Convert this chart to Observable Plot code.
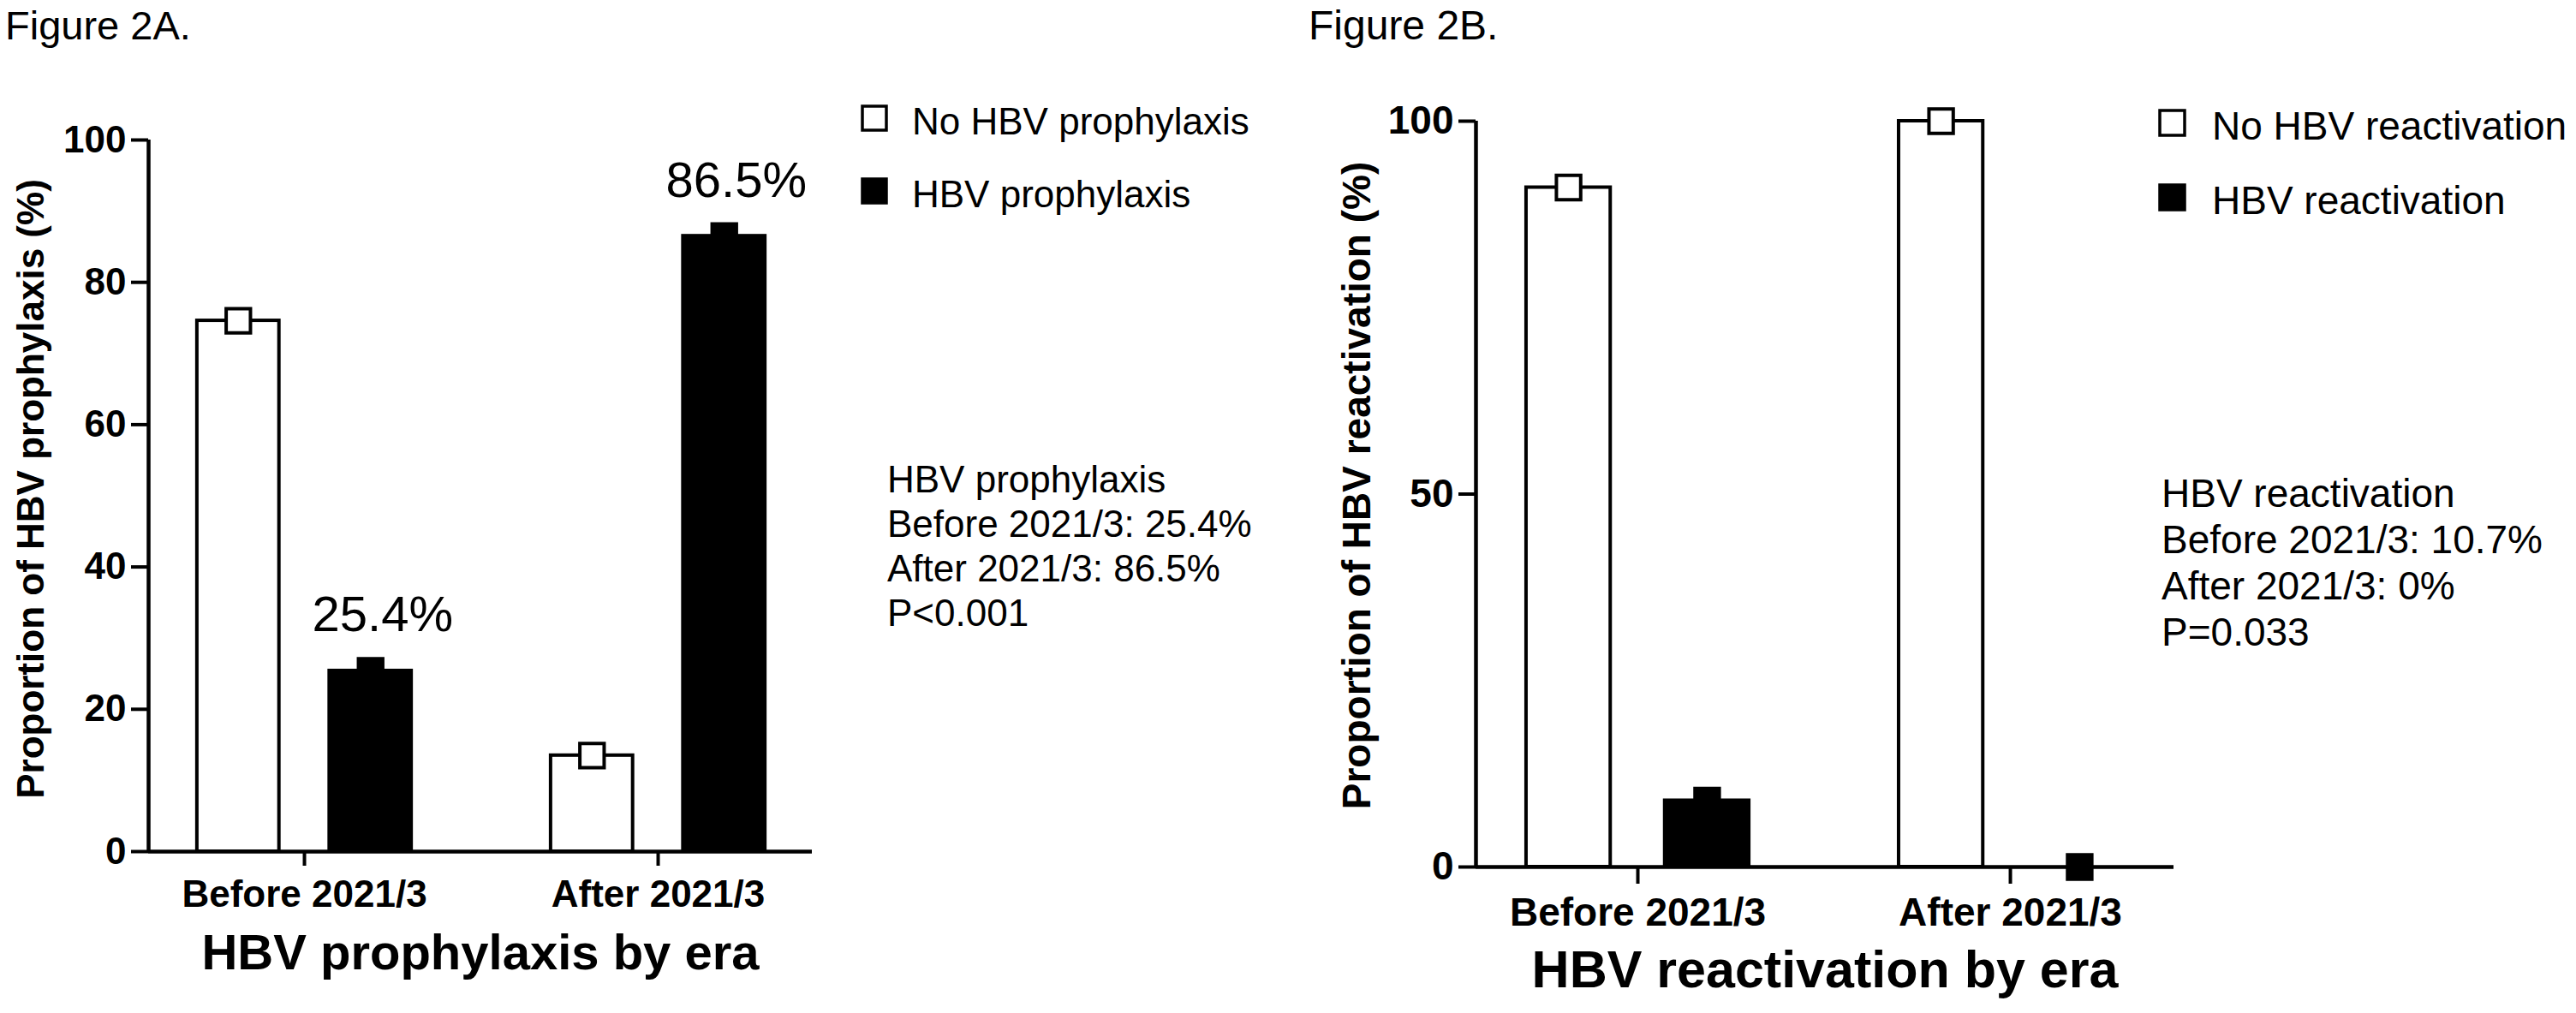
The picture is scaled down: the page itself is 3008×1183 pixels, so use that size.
<!DOCTYPE html>
<html>
<head>
<meta charset="utf-8">
<script src="https://cdn.jsdelivr.net/npm/d3@7"></script>
<script src="https://cdn.jsdelivr.net/npm/@observablehq/plot@0.6"></script>
<style>
  html, body { margin: 0; padding: 0; background: #fff; }
  #wrap { position: relative; width: 3008px; height: 1183px; overflow: hidden; background: #fff; }
  .panel { position: absolute; top: 0; }
  .panel svg { max-width: none !important; }
  #overlay { position: absolute; left: 0; top: 0; pointer-events: none; }
</style>
</head>
<body>
<div id="wrap">
  <div class="panel" id="panelA" style="left:0px;width:1500px;"></div>
  <div class="panel" id="panelB" style="left:1500px;width:1508px;"></div>
</div>
<script>
// ---------------- data ----------------
const eras = ["Before 2021/3", "After 2021/3"];

// Figure 2A
const seriesA = ["No HBV prophylaxis", "HBV prophylaxis"];
const noProphylaxis = [74.6, 13.5];
const prophylaxis = [25.4, 86.5];
const prophylaxisLabels = ["25.4%", "86.5%"];
const ticksA = [0, 20, 40, 60, 80, 100];
const annotationA = ["HBV prophylaxis", "Before 2021/3: 25.4%", "After 2021/3: 86.5%", "P<0.001"];

// Figure 2B
const seriesB = ["No HBV reactivation", "HBV reactivation"];
const noReactivation = [91.1, 100];
const reactivation = [8.9, 0];
const ticksB = [0, 50, 100];
const annotationB = ["HBV reactivation", "Before 2021/3: 10.7%", "After 2021/3: 0%", "P=0.033"];

const FONT = "'Liberation Sans', Arial, Helvetica, sans-serif";

function rows(a, b) {
  return eras.flatMap((era, i) => [
    {i, k: 0, era, value: a[i]},
    {i, k: 1, era, value: b[i]}
  ]);
}

function panel(opts) {
  const {data, width, height, mL, mR, mT, mB, xDomain, off, half, ticks,
         fs, titleFs, yLabel, xTitle, yLabelDx, yLabelDy, xTitleDy, tickPadX,
         tickSizeX, valueLabels} = opts;
  const cx = d => d.i + (d.k === 0 ? -off : off);
  const marks = [
    Plot.rect(data, {
      x1: d => cx(d) - half, x2: d => cx(d) + half,
      y1: () => 0, y2: d => d.value,
      fill: d => d.k === 0 ? "white" : "black",
      stroke: "black", strokeWidth: 4
    }),
    Plot.ruleY([0], {stroke: "black", strokeWidth: 4.5}),
    Plot.ruleX([xDomain[0]], {y1: () => 0, y2: () => 100, stroke: "black", strokeWidth: 4.5}),
    Plot.dot(data, {
      x: cx, y: "value", symbol: "square", r: 16,
      fill: d => d.k === 0 ? "white" : "black",
      stroke: "black", strokeWidth: 4
    }),
    Plot.axisX({ticks: [0, 1], tickFormat: i => eras[i], tickSize: tickSizeX, tickPadding: tickPadX,
      strokeWidth: 4, fontSize: fs, fontWeight: "bold", label: null}),
    Plot.axisY({ticks, tickSize: 20, tickPadding: 6, strokeWidth: 4,
      fontSize: fs, fontWeight: "bold", label: null}),
    Plot.text([yLabel], {text: d => d, frameAnchor: "left", rotate: -90, dx: yLabelDx, dy: yLabelDy,
      lineAnchor: "middle", textAnchor: "middle", fontSize: fs, fontWeight: "bold", fill: "black"}),
    Plot.text([xTitle], {text: d => d, frameAnchor: "bottom", dy: xTitleDy,
      lineAnchor: "bottom", textAnchor: "middle", fontSize: titleFs, fontWeight: "bold", fill: "black"})
  ];
  if (valueLabels) {
    const lab = data.filter(d => d.k === 1).map((d, j) => ({...d, label: valueLabels[j]}));
    marks.push(Plot.text(lab, {x: cx, y: "value", text: "label", dx: 14, dy: -46,
      lineAnchor: "bottom", fontSize: 58, fontWeight: "normal", fill: "black"}));
  }
  return Plot.plot({
    width, height,
    marginLeft: mL, marginRight: mR, marginTop: mT, marginBottom: mB,
    x: {type: "linear", domain: xDomain, label: null},
    y: {domain: [0, 100], label: null},
    style: {fontFamily: FONT, fontWeight: "bold", color: "black", background: "white", overflow: "visible"},
    marks
  });
}

const plotA = panel({
  data: rows(noProphylaxis, prophylaxis),
  width: 1500, height: 1183, mL: 173, mR: 552, mT: 163, mB: 189,
  xDomain: [-0.4407, 1.4358], off: 0.187, half: 0.116, ticks: ticksA,
  fs: 44, titleFs: 58, yLabel: "Proportion of HBV prophylaxis (%)", xTitle: "HBV prophylaxis by era",
  yLabelDx: -137, yLabelDy: -8, xTitleDy: 137, tickPadX: 16, tickSizeX: 17,
  valueLabels: prophylaxisLabels
});
document.getElementById("panelA").appendChild(plotA);

const plotB = panel({
  data: rows(noReactivation, reactivation),
  width: 1508, height: 1183, mL: 223, mR: 470, mT: 141, mB: 171,
  xDomain: [-0.4345, 1.439], off: 0.186, half: 0.113, ticks: ticksB,
  fs: 46, titleFs: 61, yLabel: "Proportion of HBV reactivation (%)", xTitle: "HBV reactivation by era",
  yLabelDx: -138, yLabelDy: -10, xTitleDy: 140, tickPadX: 16, tickSizeX: 20,
  valueLabels: null
});
document.getElementById("panelB").appendChild(plotB);

// ---------------- overlay: figure labels, legends, annotations ----------------
const svg = d3.select("#wrap").append("svg")
  .attr("id", "overlay").attr("width", 3008).attr("height", 1183)
  .style("font-family", FONT).style("fill", "black");

svg.append("text").attr("x", 6).attr("y", 46).attr("font-size", 47).text("Figure 2A.");
svg.append("text").attr("x", 1528).attr("y", 46).attr("font-size", 48).text("Figure 2B.");

function legend(x, textX, rowsY, names, fs, box) {
  names.forEach((name, k) => {
    svg.append("rect")
      .attr("x", x + 2).attr("y", rowsY[k] - box - 1)
      .attr("width", box - 4).attr("height", box - 4)
      .attr("fill", k === 0 ? "white" : "black")
      .attr("stroke", "black").attr("stroke-width", 3.5);
    svg.append("text").attr("x", textX).attr("y", rowsY[k]).attr("font-size", fs).text(name);
  });
}
legend(1005, 1065, [157, 242], seriesA, 44, 32);
legend(2520, 2583, [163, 250], seriesB, 46, 33);

function annotate(x, y0, step, lines, fs) {
  lines.forEach((t, j) => {
    svg.append("text").attr("x", x).attr("y", y0 + j * step).attr("font-size", fs).text(t);
  });
}
annotate(1036, 575, 52, annotationA, 44);
annotate(2524, 592, 54, annotationB, 46);
</script>
</body>
</html>
